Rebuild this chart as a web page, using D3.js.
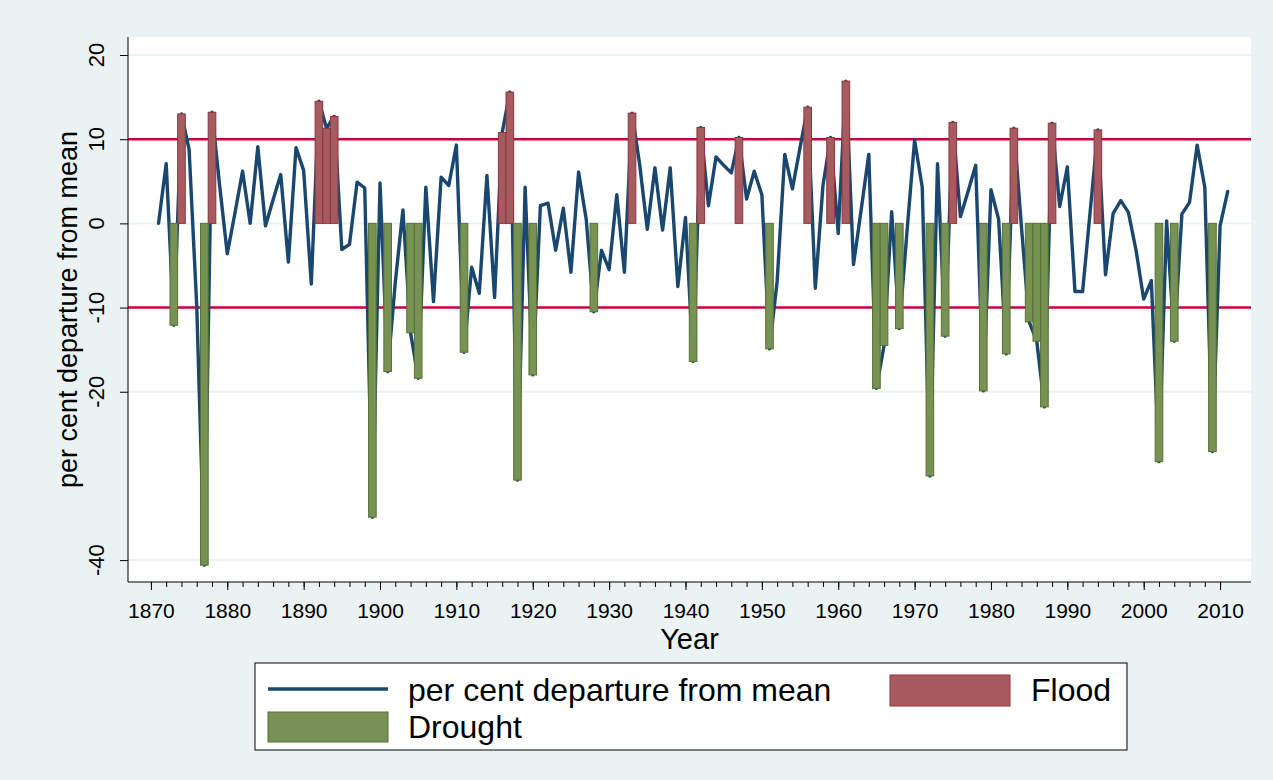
<!DOCTYPE html>
<html>
<head>
<meta charset="utf-8">
<script src="https://cdn.jsdelivr.net/npm/d3@7/dist/d3.min.js"></script>
<style>
  body { margin: 0; background: #eaf2f3; }
  svg text { font-family: "Liberation Sans", Arial, sans-serif; fill: #000; }
</style>
</head>
<body>
<svg id="chart" width="1273" height="780"></svg>
<script>
// per cent departure from mean, one value per year from 1871 to 2011
const firstYear = 1871;
const departure = [
  0.0, 7.1, -12.1, 13.0, 8.8, -9.8, -40.6, 13.2, 4.5,            // 1871-1879
  -3.6, 1.2, 6.2, 0.0, 9.1, -0.3, 2.8, 5.8, -4.6, 9.0,           // 1880s
  6.3, -7.2, 14.5, 11.3, 12.7, -3.1, -2.5, 4.9, 4.2, -34.9,      // 1890s
  4.8, -17.6, -7.0, 1.6, -13.0, -18.4, 4.3, -9.3, 5.5, 4.5,      // 1900s
  9.3, -15.3, -5.2, -8.3, 5.7, -8.8, 10.8, 15.6, -30.5, 4.3,     // 1910s
  -18.0, 2.1, 2.4, -3.2, 1.8, -5.8, 6.1, 0.5, -10.5, -3.2,       // 1920s
  -5.5, 3.4, -5.8, 13.1, 7.0, -0.7, 6.6, -0.8, 6.6, -7.5,        // 1930s
  0.7, -16.4, 11.4, 2.1, 7.9, 6.9, 6.0, 10.2, 2.9, 6.2,          // 1940s
  3.4, -14.9, -6.9, 8.2, 4.1, 9.0, 13.8, -7.7, 4.5, 10.2,        // 1950s
  -1.2, 16.9, -4.9, 1.6, 8.2, -19.6, -14.5, 1.4, -12.5, -1.0,    // 1960s
  9.9, 4.3, -30.0, 7.1, -13.4, 12.0, 0.8, 3.8, 6.9, -19.9,       // 1970s
  4.0, 0.5, -15.5, 11.3, -0.5, -11.7, -14.0, -21.8, 11.9, 2.0,   // 1980s
  6.7, -8.1, -8.1, 1.5, 11.1, -6.1, 1.2, 2.7, 1.3, -3.2,         // 1990s
  -9.0, -6.8, -28.3, 0.3, -14.0, 1.1, 2.5, 9.3, 4.3, -27.1,      // 2000s
  -0.3, 3.8                                                      // 2010-2011
];
const floodYears = [1874, 1878, 1892, 1893, 1894, 1916, 1917, 1933, 1942,
  1947, 1956, 1959, 1961, 1975, 1983, 1988, 1994];
const droughtYears = [1873, 1877, 1899, 1901, 1904, 1905, 1911, 1918, 1920,
  1928, 1941, 1951, 1965, 1966, 1968, 1972, 1974, 1979, 1982, 1985, 1986,
  1987, 2002, 2004, 2009];
const yTicks = [20, 10, 0, -10, -20, -40];
const xTicks = d3.range(1870, 2011, 10);
const xMinorTicks = d3.range(1870, 2011, 2);
const thresholds = [10, -10];

const series = departure.map((v, i) => ({ year: firstYear + i, value: v }));
const valueOf = (yr) => departure[yr - firstYear];

const svg = d3.select("#chart");
const plot = { left: 128, right: 1251, top: 37, bottom: 582 };

const x = d3.scaleLinear().domain([1867, 2014.05]).range([plot.left, plot.right]);
const y = d3.scaleLinear().domain([-42.6, 22.14]).range([plot.bottom, plot.top]);

// background
svg.append("rect").attr("width", 1273).attr("height", 780).attr("fill", "#eaf2f3");
svg.append("rect")
  .attr("x", plot.left).attr("y", plot.top)
  .attr("width", plot.right - plot.left).attr("height", plot.bottom - plot.top)
  .attr("fill", "#fff");

// grid
svg.append("g").selectAll("line").data(yTicks).enter().append("line")
  .attr("x1", plot.left).attr("x2", plot.right)
  .attr("y1", (d) => y(d)).attr("y2", (d) => y(d))
  .style("stroke", "#eaf2f3").style("stroke-width", 2);

// 10 / -10 reference lines
svg.append("g").selectAll("line").data(thresholds).enter().append("line")
  .attr("x1", plot.left).attr("x2", plot.right)
  .attr("y1", (d) => y(d)).attr("y2", (d) => y(d))
  .style("stroke", "#c8063a").style("stroke-width", 2.5);

// departure line
const line = d3.line().x((d) => x(d.year)).y((d) => y(d.value));
svg.append("path")
  .datum(series)
  .attr("d", line)
  .style("fill", "none")
  .style("stroke", "#1a476f")
  .style("stroke-width", 3.4)
  .style("stroke-linejoin", "round")
  .style("stroke-linecap", "round");

// bars, one year wide
function drawBars(years, fill, edge) {
  svg.append("g").selectAll("rect").data(years).enter().append("rect")
    .attr("x", (d) => x(d - 0.5))
    .attr("width", (d) => x(d + 0.5) - x(d - 0.5))
    .attr("y", (d) => y(Math.max(0, valueOf(d))))
    .attr("height", (d) => Math.abs(y(valueOf(d)) - y(0)))
    .style("fill", fill)
    .style("stroke", edge)
    .style("stroke-width", 1);
}
drawBars(floodYears, "#a65b61", "#90353b");
drawBars(droughtYears, "#789155", "#55752f");

// y axis
const yAxis = svg.append("g")
  .attr("transform", `translate(${plot.left},0)`)
  .call(d3.axisLeft(y).tickValues(yTicks).tickSize(8).tickFormat(""));
yAxis.select(".domain").attr("d", `M0,${plot.top}V${plot.bottom}`).style("stroke", "#000");
yAxis.selectAll(".tick line").style("stroke", "#000");
svg.append("g").selectAll("text").data(yTicks).enter().append("text")
  .attr("transform", (d) => `translate(104,${y(d)}) rotate(-90)`)
  .attr("text-anchor", "middle")
  .style("font-size", "22px")
  .text((d) => d);

// x axis
const xAxis = svg.append("g")
  .attr("transform", `translate(0,${plot.bottom})`)
  .call(d3.axisBottom(x).tickValues(xTicks).tickSize(8).tickFormat(d3.format("d")));
xAxis.select(".domain").attr("d", `M${plot.left},0H${plot.right}`).style("stroke", "#000");
xAxis.selectAll(".tick line").style("stroke", "#000");
xAxis.selectAll(".tick text").attr("y", 0).attr("dy", 36).style("font-size", "21px");
svg.append("g")
  .attr("transform", `translate(0,${plot.bottom})`)
  .call(d3.axisBottom(x).tickValues(xMinorTicks).tickSize(5).tickFormat(""))
  .call((g) => g.select(".domain").remove())
  .selectAll(".tick line").style("stroke", "#000");

// titles
svg.append("text")
  .attr("x", (plot.left + plot.right) / 2).attr("y", 649)
  .attr("text-anchor", "middle").style("font-size", "29px")
  .text("Year");
svg.append("text")
  .attr("transform", `translate(77,${(plot.top + plot.bottom) / 2}) rotate(-90)`)
  .attr("text-anchor", "middle").style("font-size", "27px")
  .text("per cent departure from mean");

// legend
const legend = svg.append("g");
legend.append("rect")
  .attr("x", 255).attr("y", 663).attr("width", 872).attr("height", 87)
  .style("fill", "#fff").style("stroke", "#000").style("stroke-width", 1);
legend.append("line")
  .attr("x1", 268).attr("x2", 388).attr("y1", 689).attr("y2", 689)
  .style("stroke", "#1a476f").style("stroke-width", 3.4);
legend.append("text").attr("x", 408).attr("y", 701)
  .style("font-size", "32px").text("per cent departure from mean");
legend.append("rect")
  .attr("x", 890).attr("y", 675).attr("width", 120).attr("height", 31)
  .style("fill", "#a65b61").style("stroke", "#90353b");
legend.append("text").attr("x", 1031).attr("y", 701)
  .style("font-size", "32px").text("Flood");
legend.append("rect")
  .attr("x", 268).attr("y", 712).attr("width", 120).attr("height", 30)
  .style("fill", "#789155").style("stroke", "#55752f");
legend.append("text").attr("x", 408).attr("y", 738)
  .style("font-size", "32px").text("Drought");
</script>
</body>
</html>
